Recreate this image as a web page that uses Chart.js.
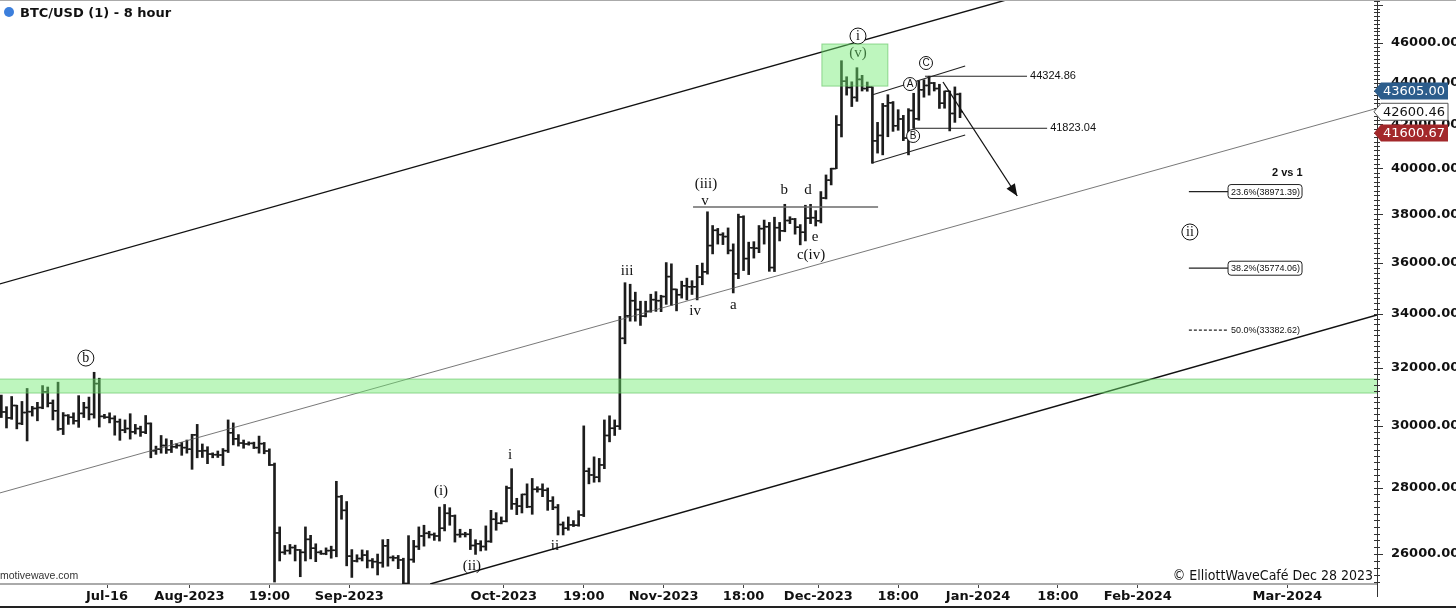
<!DOCTYPE html>
<html>
<head>
<meta charset="utf-8">
<script src="https://cdn.jsdelivr.net/npm/chart.js@4.4.1/dist/chart.umd.min.js"></script>
<style>
  html, body { margin: 0; padding: 0; background: #fff; }
</style>
</head>
<body>
<canvas id="chart" width="1456" height="608"></canvas>
<script>
// day numbers are counted from 2023-07-01, first bar is 2023-06-25
const firstDay = -6

const opens = [
  30540, 30470, 30270, 30690, 30080, 30450, 30480,
  30590, 30620, 31160, 30770, 30510, 29900, 30350,
  30290, 30170, 30420, 30620, 30390, 31450, 30320,
  30290, 30250, 30140, 29860, 29910, 29800, 29910,
  29790, 30080, 29180, 29230, 29350, 29210, 29310,
  29350, 29280, 29230, 29700, 29170, 29180, 29070,
  29050, 29040, 29180, 29770, 29570, 29430, 29400,
  29420, 29280, 29410, 29170, 28720, 26620, 26050,
  26100, 26190, 26120, 26050, 26430, 26170, 26050,
  26010, 26100, 26110, 27720, 27300, 25940, 25800,
  25870, 25970, 25810, 25780, 25750, 26240, 25900,
  25890, 25830, 25160, 25840, 26220, 26530, 26610,
  26570, 26530, 26760, 27210, 27130, 26570, 26580,
  26580, 26250, 26300, 26220, 26370, 27030, 26910,
  26970, 27990, 27500, 27430, 27790, 27410, 27950,
  27950, 27920, 27590, 27390, 26870, 26760, 26860,
  26850, 27160, 28520, 28400, 28330, 28720, 29680,
  29920, 29990, 33080, 33920, 34500, 34160, 33910,
  34090, 34540, 34500, 34660, 35440, 34940, 34730,
  35080, 35040, 35040, 35420, 35630, 36690, 37320,
  37140, 37060, 36490, 35550, 37880, 36160, 36600,
  36580, 37390, 37470, 35800, 37430, 37300, 37730,
  37790, 37450, 37240, 37830, 37850, 37720, 38690,
  39470, 39980, 41980, 44080, 43770, 43290, 44170,
  43720, 43790, 41240, 41490, 42880, 43030, 41940,
  42260, 41370, 42660, 42270, 43660, 43870, 43990,
  43720, 43010, 43590, 42520, 43440
]
const highs = [
  31050, 30650, 31000, 30700, 30830, 31280, 30660,
  30800, 31380, 31330, 30880, 31500, 30450, 30380,
  30440, 31030, 30800, 30980, 31850, 31640, 30390,
  30440, 30340, 30230, 30200, 30410, 30050, 29990,
  30350, 30100, 29330, 29680, 29570, 29520, 29410,
  29450, 29530, 29720, 30050, 29400, 29310, 29110,
  29170, 29250, 30200, 30100, 29710, 29530, 29470,
  29460, 29660, 29450, 29240, 28780, 26800, 26250,
  26280, 26260, 26130, 26800, 26550, 26300, 26100,
  26180, 26230, 28200, 27760, 27570, 26130, 25980,
  26120, 26100, 25870, 26000, 26420, 26430, 25950,
  25960, 25880, 26540, 26400, 26800, 26850, 26670,
  26620, 27400, 27480, 27380, 27160, 26730, 26640,
  26730, 26420, 26390, 26830, 27300, 27230, 27100,
  28050, 28600, 27670, 27800, 28120, 28290, 28030,
  28120, 27990, 27720, 27480, 26950, 27100, 26990,
  27290, 30000, 28620, 28980, 28930, 30200, 30340,
  30200, 33900, 35200, 35140, 34830, 34480, 34480,
  34750, 34850, 34710, 36000, 35950, 34950, 35260,
  35380, 35280, 35890, 35980, 38100, 37520, 37400,
  37220, 37420, 36760, 38000, 37930, 36830, 36850,
  37520, 37750, 37650, 37870, 37650, 38420, 37890,
  37820, 37560, 38380, 38420, 38150, 38970, 39700,
  40000, 42420, 45100, 44300, 44050, 44750, 44370,
  44040, 43800, 42100, 43000, 43420, 43090, 42700,
  42430, 42750, 43490, 44100, 44150, 44325, 44020,
  43930, 43600, 43600, 43800, 43500
]
const lows = [
  30280, 29930, 30220, 29900, 30040, 29500, 30330,
  30170, 30580, 30640, 30200, 29850, 29710, 30050,
  30060, 29950, 30280, 30200, 30260, 29960, 30250,
  30100, 29690, 29520, 29770, 29560, 29730, 29650,
  29740, 28950, 29060, 29100, 29090, 29120, 29260,
  29030, 29100, 28580, 28950, 28960, 28760, 28950,
  28960, 28700, 29120, 29370, 29330, 29260, 29360,
  29250, 29100, 29080, 28700, 25200, 25800, 25990,
  26000, 25800, 25350, 25800, 25860, 25780, 25990,
  25980, 25880, 25920, 27030, 25660, 25330, 25770,
  25800, 25600, 25600, 25400, 25620, 25650, 25800,
  25580, 24900, 25140, 25760, 26130, 26230, 26470,
  26400, 26380, 26680, 26850, 26350, 26490, 26500,
  26130, 25990, 26090, 26110, 26340, 26700, 26890,
  26950, 27330, 27170, 27220, 27380, 27180, 27860,
  27720, 27300, 27320, 26560, 26560, 26700, 26810,
  26820, 27110, 28120, 28170, 28180, 28600, 29470,
  29680, 29880, 32880, 33720, 33720, 33560, 33880,
  34060, 34090, 34080, 34360, 34320, 34110, 34600,
  34530, 34740, 34530, 35120, 35540, 36350, 36750,
  36730, 36350, 34800, 35360, 35680, 35520, 36180,
  36400, 36750, 35650, 35640, 36880, 37260, 37600,
  37160, 36720, 36880, 37600, 37500, 37630, 38650,
  39260, 39980, 41420, 43400, 42850, 43100, 43600,
  43590, 40220, 40680, 40600, 41430, 41680, 41730,
  41250, 40600, 41823, 42200, 43300, 43400, 43600,
  42760, 42770, 41700, 42100, 42320
]
const closes = [
  30470, 30270, 30690, 30080, 30450, 30480, 30590,
  30620, 31160, 30770, 30510, 29900, 30350, 30290,
  30170, 30420, 30620, 30390, 31450, 30320, 30290,
  30250, 30140, 29860, 29910, 29800, 29910, 29790,
  30080, 29180, 29230, 29350, 29210, 29310, 29350,
  29280, 29230, 29700, 29170, 29180, 29070, 29050,
  29040, 29180, 29770, 29570, 29430, 29400, 29420,
  29280, 29410, 29170, 28720, 26620, 26050, 26100,
  26190, 26120, 26050, 26430, 26170, 26050, 26010,
  26100, 26110, 27720, 27300, 25940, 25800, 25870,
  25970, 25810, 25780, 25750, 26240, 25900, 25890,
  25830, 25160, 25840, 26220, 26530, 26610, 26570,
  26530, 26760, 27210, 27130, 26570, 26580, 26580,
  26250, 26300, 26220, 26370, 27030, 26910, 26970,
  27990, 27500, 27430, 27790, 27410, 27950, 27950,
  27920, 27590, 27390, 26870, 26760, 26860, 26850,
  27160, 28520, 28400, 28330, 28720, 29680, 29920,
  29990, 33080, 33920, 34500, 34160, 33910, 34090,
  34540, 34500, 34660, 35440, 34940, 34730, 35080,
  35040, 35040, 35420, 35630, 36690, 37320, 37140,
  37060, 36490, 35550, 37880, 36160, 36600, 36580,
  37390, 37470, 35800, 37430, 37300, 37730, 37790,
  37450, 37240, 37830, 37850, 37720, 38690, 39470,
  39980, 41980, 44080, 43770, 43290, 44170, 43720,
  43790, 41240, 41490, 42880, 43030, 41940, 42260,
  41370, 42660, 42270, 43660, 43870, 43990, 43720,
  43010, 43590, 42520, 43440, 42600
]

const xTickDays = [15, 31, 46.5, 62, 92, 107.5, 123, 138.5, 153, 168.5, 184, 199.5, 215, 244]
const xTickLabels = ['Jul-16', 'Aug-2023', '19:00', 'Sep-2023', 'Oct-2023', '19:00', 'Nov-2023',
  '18:00', 'Dec-2023', '18:00', 'Jan-2024', '18:00', 'Feb-2024', 'Mar-2024']
const yTickValues = [26000, 28000, 30000, 32000, 34000, 36000, 38000, 40000, 42000, 44000, 46000]

const priceTags = [43605.00, 42600.46, 41600.67]
const levelLines = [44324.86, 41823.04]
const fibLevels = [['23.6%', 38971.39], ['38.2%', 35774.06], ['50.0%', 33382.62]]

// wave labels: text, day, price
const waveLabels = [
  ['(i)', 79.8, 27890], ['(ii)', 85.8, 25660], ['i', 93.2, 29040], ['ii', 101.9, 26230],
  ['iii', 115.9, 35665], ['iv', 129.1, 34100], ['(iii)', 131.2, 39300], ['v', 131.0, 38560],
  ['a', 136.5, 34335], ['b', 146.4, 39040], ['d', 151.0, 39040], ['e', 152.4, 37040],
  ['c(iv)', 151.6, 36310], ['(v)', 160.7, 45490]
]
const circledLabels = [
  ['b', 10.9, 32360, 8], ['i', 160.7, 46360, 8], ['ii', 225.1, 37250, 8],
  ['A', 170.8, 43940, 6.5], ['B', 171.4, 41465, 6.5], ['C', 173.9, 44985, 6.5]
]

const xMin = -5.76, xMax = 261.4
const yMin = 25145, yMax = 48263

const barColor = '#1c1c1c'
const days = opens.map((_, i) => firstDay + i + 0.5)

const serif = '"Liberation Serif", "DejaVu Serif", serif'
const sans = '"Liberation Sans", Arial, sans-serif'

const overlay = {
  id: 'overlay',
  afterDatasetsDraw(chart) {
    const { ctx, chartArea: a, scales: { x, y } } = chart
    const px = d => x.getPixelForValue(d)
    const py = p => y.getPixelForValue(p)
    const line = (d1, p1, d2, p2, w, c, dash) => {
      ctx.beginPath()
      ctx.lineWidth = w
      ctx.strokeStyle = c
      ctx.setLineDash(dash || [])
      ctx.moveTo(px(d1), py(p1))
      ctx.lineTo(px(d2), py(p2))
      ctx.stroke()
      ctx.setLineDash([])
    }
    ctx.save()
    ctx.beginPath()
    ctx.rect(a.left, a.top, a.right - a.left, a.bottom - a.top)
    ctx.clip()

    // channel
    line(-5.8, 35150, 189.4, 48263, 1.3, '#111')
    line(-5.8, 27835, 261.6, 42780, 0.8, '#555')
    line(77.7, 25145, 261.4, 33953, 1.4, '#111')
    // triangle top line
    line(128.7, 38305, 164.6, 38305, 1.5, '#6a6a6a')
    // small channel after wave (i)
    line(163.4, 43405, 181.5, 44834, 1.1, '#222')
    line(163.4, 40233, 181.5, 41511, 1.1, '#222')
    // level lines
    line(173.7, levelLines[0], 193.5, levelLines[0], 1, '#222')
    line(171.4, levelLines[1], 197.4, levelLines[1], 1, '#222')

    ctx.fillStyle = '#111'
    ctx.font = '11px ' + sans
    ctx.textBaseline = 'middle'
    ctx.textAlign = 'left'
    ctx.fillText(levelLines[0].toFixed(2), px(193.5) + 3, py(levelLines[0]))
    ctx.fillText(levelLines[1].toFixed(2), px(197.4) + 3, py(levelLines[1]))

    // arrow
    const ax1 = px(177.2), ay1 = py(44040), ax2 = px(191.6), ay2 = py(38778)
    ctx.beginPath()
    ctx.lineWidth = 1.3
    ctx.strokeStyle = '#111'
    ctx.moveTo(ax1, ay1)
    ctx.lineTo(ax2, ay2)
    ctx.stroke()
    const ang = Math.atan2(ay2 - ay1, ax2 - ax1)
    ctx.beginPath()
    ctx.fillStyle = '#111'
    ctx.moveTo(ax2, ay2)
    ctx.lineTo(ax2 - 12 * Math.cos(ang) + 5 * Math.sin(ang), ay2 - 12 * Math.sin(ang) - 5 * Math.cos(ang))
    ctx.lineTo(ax2 - 12 * Math.cos(ang) - 5 * Math.sin(ang), ay2 - 12 * Math.sin(ang) + 5 * Math.cos(ang))
    ctx.closePath()
    ctx.fill()

    // wave labels
    ctx.fillStyle = '#111'
    ctx.textAlign = 'center'
    ctx.font = '15px ' + serif
    waveLabels.forEach(([t, d, p]) => ctx.fillText(t, px(d), py(p)))
    circledLabels.forEach(([t, d, p, r]) => {
      const cx = px(d), cy = py(p)
      ctx.beginPath()
      ctx.fillStyle = '#fff'
      ctx.strokeStyle = '#111'
      ctx.lineWidth = 1
      ctx.arc(cx, cy, r, 0, Math.PI * 2)
      ctx.fill()
      ctx.stroke()
      ctx.fillStyle = '#111'
      ctx.font = r > 7 ? '14px ' + serif : '10px ' + sans
      ctx.fillText(t, cx, cy + (r > 7 ? 0 : 0.5))
    })

    // fibonacci levels
    fibLevels.forEach(([pct, v], i) => {
      const yy = py(v), x2 = px(232.5)
      line(224.9, v, 232.5, v, 1.2, '#222', i === 2 ? [3, 2] : null)
      const txt = pct + '(' + v.toFixed(2) + ')'
      ctx.font = '9px ' + sans
      ctx.textAlign = 'left'
      if (i < 2) {
        ctx.beginPath()
        ctx.fillStyle = '#fff'
        ctx.strokeStyle = '#222'
        ctx.lineWidth = 1
        ctx.roundRect(x2, yy - 7, 74, 14, 3)
        ctx.fill()
        ctx.stroke()
      }
      ctx.fillStyle = '#111'
      ctx.fillText(txt, x2 + 3, yy + 0.5)
    })
    ctx.font = 'bold 11px ' + sans
    ctx.textAlign = 'center'
    ctx.fillText('2 vs 1', px(244), py(39786))

    // green zones
    ctx.fillStyle = 'rgba(110, 235, 110, 0.45)'
    ctx.strokeStyle = 'rgba(90, 190, 90, 0.6)'
    ctx.lineWidth = 1
    const bandTop = py(31610), bandBot = py(31120)
    ctx.fillRect(a.left, bandTop, a.right - a.left, bandBot - bandTop)
    ctx.strokeRect(a.left - 1, bandTop, a.right - a.left + 2, bandBot - bandTop)
    const bx1 = px(153.7), bx2 = px(166.5), by1 = py(45950), by2 = py(43840)
    ctx.fillRect(bx1, by1, bx2 - bx1, by2 - by1)
    ctx.strokeRect(bx1, by1, bx2 - bx1, by2 - by1)
    ctx.restore()
  },
  afterDraw(chart) {
    const { ctx, chartArea: a, scales: { y } } = chart
    ctx.save()
    // minor ticks on price axis
    ctx.strokeStyle = '#333'
    ctx.lineWidth = 1
    for (let v = 25200; v <= 48200; v += 200) {
      const yy = Math.round(y.getPixelForValue(v)) + 0.5
      ctx.beginPath()
      ctx.moveTo(a.right - 3, yy)
      ctx.lineTo(a.right + (v % 2000 === 0 ? 6 : 3), yy)
      ctx.stroke()
    }
    ctx.beginPath()
    ctx.moveTo(a.right + 0.5, a.bottom)
    ctx.lineTo(a.right + 0.5, a.bottom + 13)
    ctx.stroke()
    // price tags
    const tagStyles = [
      { fill: '#2c5d8c', text: '#fff' },
      { fill: '#fff', text: '#111', stroke: '#555' },
      { fill: '#a3282b', text: '#fff' }
    ]
    priceTags.forEach((v, i) => {
      const s = tagStyles[i]
      const yy = y.getPixelForValue(v), h = 17
      ctx.beginPath()
      ctx.moveTo(a.right - 3, yy)
      ctx.lineTo(a.right + 4, yy - h / 2)
      ctx.lineTo(1448, yy - h / 2)
      ctx.lineTo(1448, yy + h / 2)
      ctx.lineTo(a.right + 4, yy + h / 2)
      ctx.closePath()
      ctx.fillStyle = s.fill
      ctx.fill()
      if (s.stroke) {
        ctx.strokeStyle = s.stroke
        ctx.stroke()
      }
      ctx.fillStyle = s.text
      ctx.font = '13px "DejaVu Sans"'
      ctx.textAlign = 'left'
      ctx.textBaseline = 'middle'
      ctx.fillText(v.toFixed(2), a.right + 6, yy + 1)
    })
    // title
    ctx.beginPath()
    ctx.fillStyle = '#3c7fdc'
    ctx.arc(9, 12, 5, 0, Math.PI * 2)
    ctx.fill()
    ctx.fillStyle = '#111'
    ctx.font = 'bold 13px "DejaVu Sans"'
    ctx.textAlign = 'left'
    ctx.textBaseline = 'middle'
    ctx.fillText('BTC/USD (1) - 8 hour', 20, 14)
    // footer texts
    ctx.font = '10.5px ' + sans
    ctx.fillStyle = '#333'
    ctx.fillText('motivewave.com', 0, 576)
    ctx.font = '14px "DejaVu Sans Condensed", "DejaVu Sans"'
    ctx.fillStyle = '#111'
    ctx.textAlign = 'right'
    ctx.fillText('\u00a9 ElliottWaveCaf\u00e9 Dec 28 2023', a.right - 4, 576)
    // frame
    ctx.fillStyle = '#aaa'
    ctx.fillRect(0, 0, 1456, 1)
    ctx.fillStyle = '#222'
    ctx.fillRect(0, 606, 1456, 2)
    ctx.restore()
  }
}

const ctx = document.getElementById('chart').getContext('2d')

new Chart(ctx, {
  type: 'bar',
  data: {
    datasets: [
      {
        type: 'bar',
        data: days.map((d, i) => ({ x: d, y: [lows[i], highs[i]] })),
        backgroundColor: barColor,
        barThickness: 2,
        clip: 0
      },
      {
        type: 'line',
        showLine: false,
        data: days.map((d, i) => ({ x: d, y: opens[i] })),
        pointStyle: 'dash',
        pointRotation: 180,
        pointRadius: 3,
        pointBorderWidth: 1.6,
        borderColor: barColor,
        clip: 0
      },
      {
        type: 'line',
        showLine: false,
        data: days.map((d, i) => ({ x: d, y: closes[i] })),
        pointStyle: 'dash',
        pointRotation: 0,
        pointRadius: 3,
        pointBorderWidth: 1.6,
        borderColor: barColor,
        clip: 0
      }
    ]
  },
  options: {
    responsive: false,
    animation: false,
    events: [],
    layout: { padding: 0, autoPadding: false },
    plugins: { legend: { display: false }, tooltip: { enabled: false } },
    scales: {
      x: {
        type: 'linear',
        min: xMin,
        max: xMax,
        offset: false,
        afterBuildTicks: s => { s.ticks = xTickDays.map(v => ({ value: v })) },
        afterFit: s => { s.height = 24; s.paddingLeft = 0; s.paddingRight = 0 },
        ticks: {
          autoSkip: false,
          maxRotation: 0,
          padding: 1,
          color: '#111',
          font: { family: 'DejaVu Sans', weight: 'bold', size: 13 },
          callback: (v, i) => xTickLabels[i]
        },
        grid: { offset: false, drawOnChartArea: false, drawTicks: true, tickLength: 4, color: '#444' },
        border: { display: true, color: '#aaa', width: 2 }
      },
      y: {
        type: 'logarithmic',
        position: 'right',
        min: yMin,
        max: yMax,
        afterBuildTicks: s => { s.ticks = yTickValues.map(v => ({ value: v })) },
        afterFit: s => { s.width = 79; s.paddingTop = 0; s.paddingBottom = 0 },
        ticks: {
          autoSkip: false,
          padding: 6,
          color: '#111',
          font: { family: 'DejaVu Sans', weight: 'bold', size: 13 },
          callback: v => Number(v).toFixed(2)
        },
        grid: { display: false },
        border: { display: true, color: '#333', width: 1 }
      }
    }
  },
  plugins: [overlay]
})
</script>
</body>
</html>
